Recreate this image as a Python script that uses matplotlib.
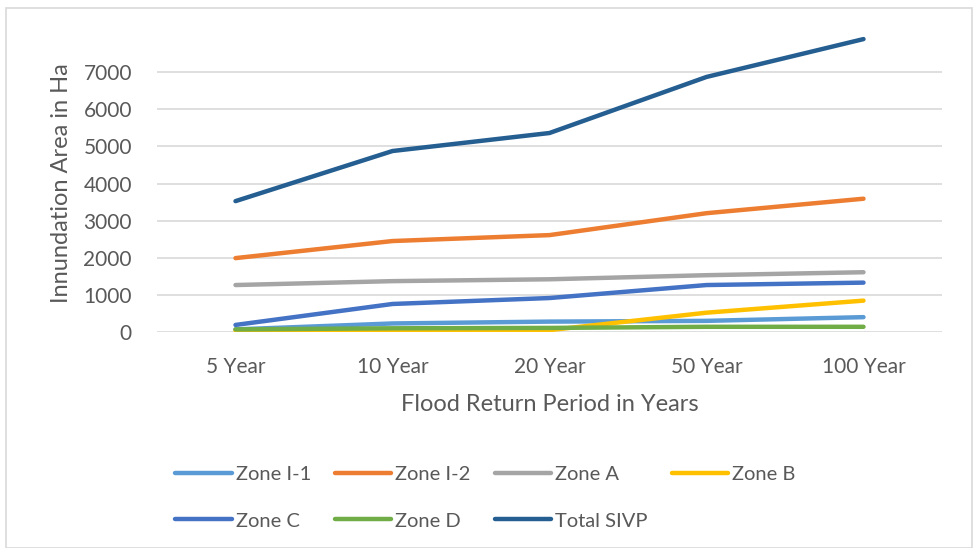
import matplotlib.pyplot as plt
from matplotlib.patches import Rectangle

plt.rcParams['font.family'] = ['Lato', 'DejaVu Sans']

periods = ["5 Year", "10 Year", "20 Year", "50 Year", "100 Year"]
zone_i1 = [70, 230, 280, 300, 400]
zone_i2 = [1990, 2450, 2610, 3200, 3590]
zone_a = [1265, 1370, 1420, 1530, 1610]
zone_b = [40, 30, 50, 520, 845]
zone_c = [190, 755, 915, 1265, 1330]
zone_d = [70, 100, 110, 140, 140]
total_sivp = [3525, 4875, 5360, 6870, 7890]

names = ["Zone I-1", "Zone I-2", "Zone A", "Zone B", "Zone C", "Zone D", "Total SIVP"]
series = [zone_i1, zone_i2, zone_a, zone_b, zone_c, zone_d, total_sivp]
colors = ["#5B9BD5", "#ED7D31", "#A5A5A5", "#FFC000", "#4472C4", "#70AD47", "#255E91"]

txt = "#595959"

fig = plt.figure(figsize=(9.74, 5.48), dpi=100)
ax = fig.add_axes([157/974, (548-332)/548, (942-157)/974, (332-35)/548])

x = range(len(periods))
lines = []
for vals, name, c in zip(series, names, colors):
    ln, = ax.plot(x, vals, color=c, linewidth=3.2, solid_capstyle="round",
                  solid_joinstyle="round", label=name)
    lines.append(ln)

ax.set_xlim(-0.5, len(periods) - 0.5)
ax.set_ylim(0, 8000)
ax.set_yticks(range(0, 8000, 1000))
ax.set_xticks(list(x))
ax.set_xticklabels(periods)
ax.grid(axis="y", color="#D9D9D9", linewidth=1.2)
ax.set_axisbelow(True)
for s in ax.spines.values():
    s.set_visible(False)
ax.tick_params(length=0, labelsize=15, colors=txt)
ax.tick_params(axis="y", pad=18)
ax.tick_params(axis="x", pad=18)
ax.set_ylabel("Innundation Area in Ha", fontsize=17, color=txt, labelpad=8)
ax.set_xlabel("Flood Return Period in Years", fontsize=17, color=txt, labelpad=12)

# legend fills column by column, so reorder to get row-wise order like Excel
order = [0, 4, 1, 5, 2, 6, 3]
fig.legend([lines[i] for i in order], [names[i] for i in order],
           loc="upper left", bbox_to_anchor=(157/974, 1 - 448/548), ncol=4,
           frameon=False, fontsize=14.5, labelcolor=txt, handlelength=2.8,
           handletextpad=0.2, columnspacing=1.2, labelspacing=1.45)

fig.patches.append(Rectangle((6/974, 0), 966/974, 1 - 8/548, transform=fig.transFigure,
                             fill=False, edgecolor="#D9D9D9", linewidth=1.2))

fig.savefig("out.png", dpi=100)
